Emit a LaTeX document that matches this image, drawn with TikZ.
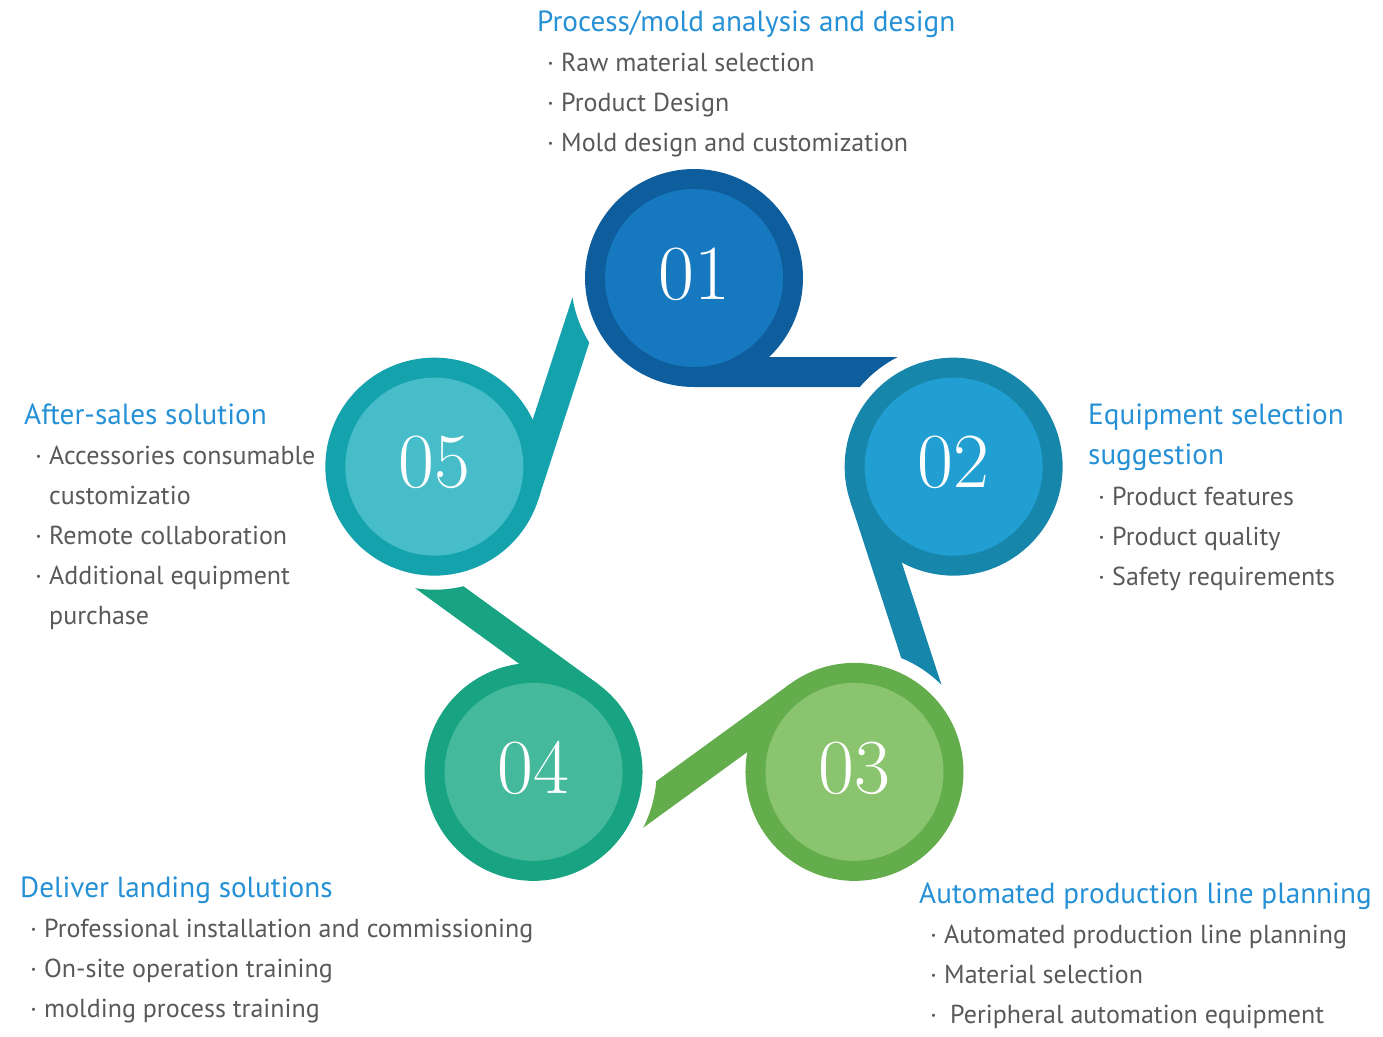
\documentclass[tikz,border=0pt]{standalone}
\usepackage{fontspec}
\newfontfamily\txtfont{PT Sans}
\definecolor{ringA}{HTML}{0E5E9E}
\definecolor{fillA}{HTML}{1679C0}
\definecolor{ringB}{HTML}{1786AB}
\definecolor{fillB}{HTML}{219FD3}
\definecolor{ringC}{HTML}{63AD4C}
\definecolor{fillC}{HTML}{8AC46E}
\definecolor{ringD}{HTML}{18A482}
\definecolor{fillD}{HTML}{45B99C}
\definecolor{ringE}{HTML}{14A2AD}
\definecolor{fillE}{HTML}{47BDC9}
\definecolor{headblue}{HTML}{2590D6}
\definecolor{bodygray}{HTML}{595959}
\tikzset{
  head/.style={anchor=base west, inner sep=0pt, text=headblue, font=\txtfont\fontsize{29.2}{32}\selectfont},
  item/.style={anchor=base west, inner sep=0pt, text=bodygray, font=\txtfont\fontsize{26}{30}\selectfont},
  num/.style={inner sep=0pt, text=white, font=\fontsize{78}{80}\selectfont},
  outerdisc/.style={circle, inner sep=0pt, minimum size=218pt},
  innerdisc/.style={circle, inner sep=0pt, minimum size=178pt},
}
\newcommand{\bul}{\makebox[14pt][l]{·}}
\begin{document}
\begin{tikzpicture}[x=1pt,y=-1pt]
\useasboundingbox (0,0) rectangle (1383,1036);
\foreach \k/\rc/\fc/\lab in {0/ringA/fillA/01, 1/ringB/fillB/02, 2/ringC/fillC/03, 3/ringD/fillD/04, 4/ringE/fillE/05}{
  \begin{scope}[rotate around={-72*\k:(694,551)}]
    \fill[\rc] (694,387) -- (859.8,387) arc[start angle=-139.67, end angle=-117.0, radius=123] -- (694,357) -- cycle;
    \node[outerdisc, fill=\rc] (c\k) at (694,278) {};
    \node[innerdisc, fill=\fc] (d\k) at (c\k.center) {};
  \end{scope}
  \node[num] (n\k) at ([yshift=4pt]c\k.center) {\lab};
}
% block 1
\node[head] (h1) at (537,31) {Process/mold analysis and design};
\node[item] (i11) at (547,71) {\bul Raw material selection};
\node[item] (i12) at (547,111) {\bul Product Design};
\node[item] (i13) at (547,151) {\bul Mold design and customization};
% block 2
\node[head] (h2a) at (1088,424) {Equipment selection};
\node[head] (h2b) at (1088,464) {suggestion};
\node[item] (i21) at (1098,505) {\bul Product features};
\node[item] (i22) at (1098,545) {\bul Product quality};
\node[item] (i23) at (1098,585) {\bul Safety requirements};
% block 3
\node[head] (h3) at (919,903) {Automated production line planning};
\node[item] (i31) at (930,943) {\bul Automated production line planning};
\node[item] (i32) at (930,983) {\bul Material selection};
\node[item] (i33) at (930,1023) {\makebox[20pt][l]{·}Peripheral automation equipment};
% block 4
\node[head] (h4) at (20,897) {Deliver landing solutions};
\node[item] (i41) at (30,937) {\bul Professional installation and commissioning};
\node[item] (i42) at (30,977) {\bul On-site operation training};
\node[item] (i43) at (30,1017) {\bul molding process training};
% block 5
\node[head] (h5) at (24,424) {After-sales solution};
\node[item] (i51) at (35,464) {\bul Accessories consumable};
\node[item] (i52) at (49,504) {customizatio};
\node[item] (i53) at (35,544) {\bul Remote collaboration};
\node[item] (i54) at (35,584) {\bul Additional equipment};
\node[item] (i55) at (49,624) {purchase};
\end{tikzpicture}
\end{document}
